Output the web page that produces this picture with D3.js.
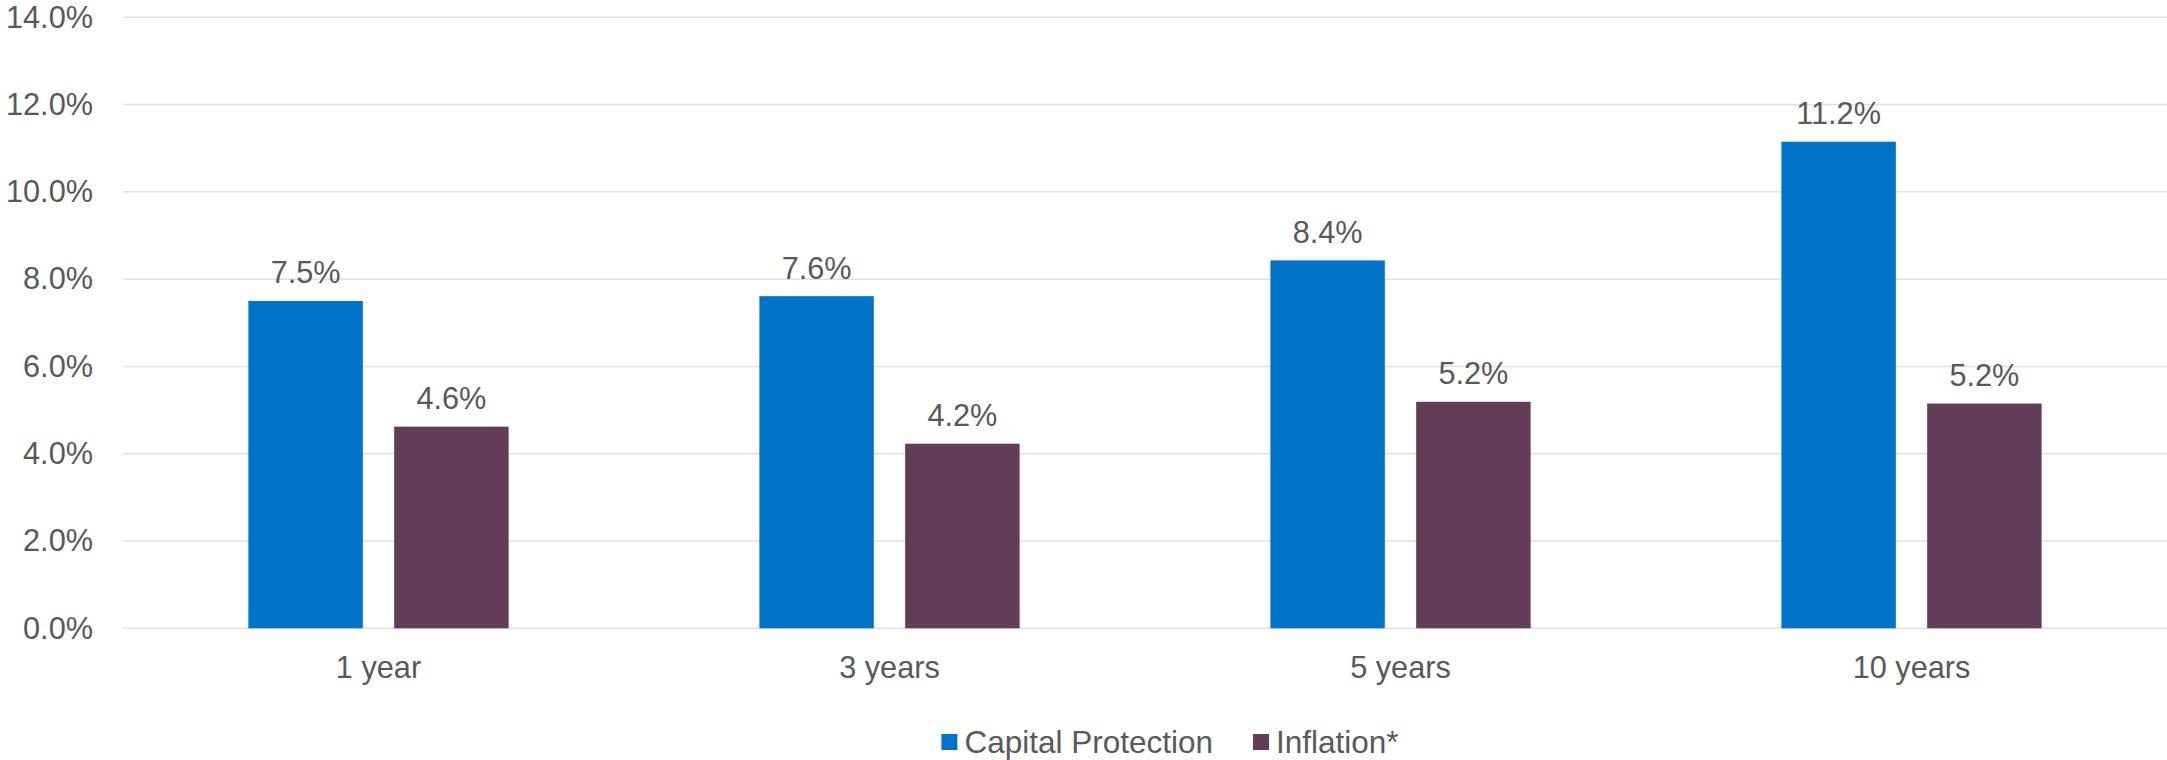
<!DOCTYPE html>
<html>
<head>
<meta charset="utf-8">
<script src="https://cdn.jsdelivr.net/npm/d3@7"></script>
<style>
  html, body { margin: 0; padding: 0; background: #fff; }
  svg { display: block; font-family: "Liberation Sans", Arial, sans-serif; }
</style>
</head>
<body>
<svg id="chart"></svg>
<script>
const categories = ['1 year', '3 years', '5 years', '10 years'];
const seriesNames = ['Capital Protection', 'Inflation*'];
const capitalProtection = [7.5, 7.61, 8.43, 11.15];
const inflation = [4.62, 4.23, 5.19, 5.15];
const capitalLabels = ['7.5%', '7.6%', '8.4%', '11.2%'];
const inflationLabels = ['4.6%', '4.2%', '5.2%', '5.2%'];
const yTicks = [0, 2, 4, 6, 8, 10, 12, 14];

const colors = ['#0274C8', '#633D57'];
const textColor = '#595959';
const W = 2167, H = 760;
const fontSize = 30.7;

const svg = d3.select('#chart')
  .attr('width', W)
  .attr('height', H);

const plot = { left: 123, right: 2167, top: 17.3, bottom: 628.3 };

const x0 = d3.scaleBand()
  .domain(categories)
  .range([plot.left, plot.right])
  .padding(0);

const x1 = d3.scaleBand()
  .domain(seriesNames)
  .range([0, x0.bandwidth()])
  .paddingInner(0.215)
  .paddingOuter(0.86);

const y = d3.scaleLinear()
  .domain([0, 14])
  .range([plot.bottom, plot.top]);

// gridlines
svg.append('g')
  .selectAll('line')
  .data(yTicks)
  .enter()
  .append('line')
  .attr('x1', plot.left).attr('x2', plot.right)
  .attr('y1', d => y(d)).attr('y2', d => y(d))
  .attr('stroke', '#E0E0E0')
  .attr('stroke-width', 1.5);

// y axis labels
const yAxis = svg.append('g')
  .attr('transform', 'translate(93,0)')
  .call(d3.axisLeft(y).tickValues(yTicks).tickSize(0).tickPadding(0)
    .tickFormat(d => d.toFixed(1) + '%'));
yAxis.select('.domain').remove();
yAxis.selectAll('text')
  .attr('font-size', fontSize)
  .attr('font-family', '"Liberation Sans", Arial, sans-serif')
  .attr('fill', textColor);

// x axis labels
const xAxis = svg.append('g')
  .attr('transform', `translate(0, ${plot.bottom})`)
  .call(d3.axisBottom(x0).tickSize(0).tickPadding(0));
xAxis.select('.domain').remove();
xAxis.selectAll('text')
  .attr('y', 50)
  .attr('dy', 0)
  .attr('font-size', fontSize)
  .attr('font-family', '"Liberation Sans", Arial, sans-serif')
  .attr('fill', textColor);

const rows = categories.map((c, i) => ({
  category: c,
  values: [
    { name: seriesNames[0], value: capitalProtection[i], label: capitalLabels[i] },
    { name: seriesNames[1], value: inflation[i], label: inflationLabels[i] }
  ]
}));

const groups = svg.selectAll('.group')
  .data(rows)
  .enter()
  .append('g')
  .attr('class', 'group')
  .attr('transform', d => `translate(${x0(d.category)}, 0)`);

groups.selectAll('rect')
  .data(d => d.values)
  .enter()
  .append('rect')
  .attr('x', d => x1(d.name))
  .attr('y', d => y(d.value))
  .attr('width', x1.bandwidth())
  .attr('height', d => y(0) - y(d.value))
  .attr('fill', (d, i) => colors[i]);

groups.selectAll('.val')
  .data(d => d.values)
  .enter()
  .append('text')
  .attr('class', 'val')
  .attr('x', d => x1(d.name) + x1.bandwidth() / 2)
  .attr('y', d => y(d.value) - 17.5)
  .attr('text-anchor', 'middle')
  .attr('font-size', fontSize)
  .attr('fill', textColor)
  .text(d => d.label);

// legend
const legend = svg.append('g');
let lx = 0;
seriesNames.forEach((name, i) => {
  const item = legend.append('g').attr('transform', `translate(${lx}, 0)`);
  item.append('rect')
    .attr('x', 0).attr('y', 734)
    .attr('width', 16).attr('height', 16)
    .attr('fill', colors[i]);
  const t = item.append('text')
    .attr('x', 23).attr('y', 753)
    .attr('font-size', 31.5)
    .attr('fill', textColor)
    .text(name);
  lx += 23 + t.node().getComputedTextLength() + 40;
});
const legendWidth = lx - 40;
legend.attr('transform', `translate(${1170 - legendWidth / 2}, 0)`);
</script>
</body>
</html>
